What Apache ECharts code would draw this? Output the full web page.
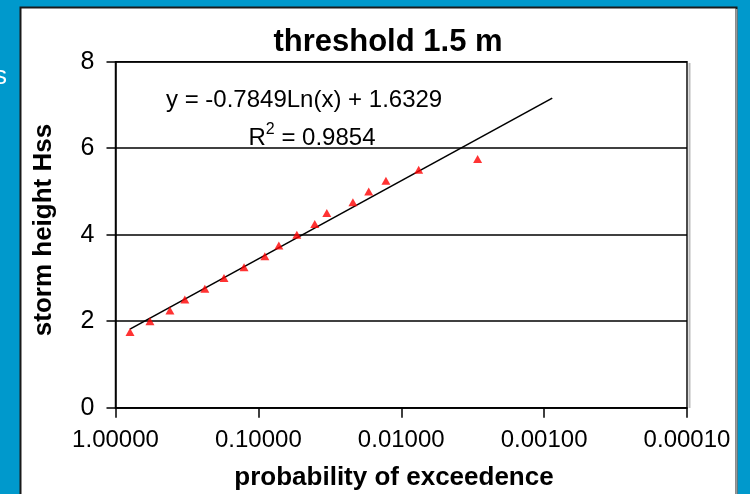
<!DOCTYPE html>
<html><head><meta charset="utf-8">
<script src="https://cdn.jsdelivr.net/npm/echarts@6/dist/echarts.min.js"></script>
<style>html,body{margin:0;padding:0;background:#0099cc;overflow:hidden;} #c{width:750px;height:494px;}</style>
</head><body><div id="c"></div>
<script>
// exceedance probability (x) and storm height Hss (y)
const probability = [0.792, 0.574, 0.416, 0.327, 0.237, 0.174, 0.126, 0.0901, 0.0719, 0.0538, 0.0403, 0.0332, 0.0218, 0.0169, 0.0128, 0.00755, 0.00292];
const stormHeight = [1.75, 2.0, 2.25, 2.5, 2.75, 3.0, 3.25, 3.5, 3.75, 4.0, 4.25, 4.5, 4.75, 5.0, 5.25, 5.5, 5.75];
// logarithmic trendline shown on the chart: y = -0.7849 ln(x) + 1.6329
const trendCoef = [-0.7849, 1.6329];
const trendRange = [0.792, 0.000877];
const xTickLabels = ['1.00000', '0.10000', '0.01000', '0.00100', '0.00010'];
const yTickLabels = ['0', '2', '4', '6', '8'];
const chartTitle = 'threshold 1.5 m';
const xName = 'probability of exceedence';
const yName = 'storm height Hss';
const eqText = 'y = -0.7849Ln(x) + 1.6329';
const r2Text = ' = 0.9854';

const trendData = trendRange.map(x => [x, trendCoef[0] * Math.log(x) + trendCoef[1]]);
const scatterData = probability.map((p, i) => [p, stormHeight[i]]);

const chart = echarts.init(document.getElementById('c'), null, {renderer: 'canvas'});
const FONT = 'Liberation Sans, Arial, sans-serif';
chart.setOption({
  backgroundColor: '#0099cc',
  animation: false,
  grid: {left: 115.5, right: 63, top: 61.7, bottom: 86.3, show: true, borderColor: '#111', borderWidth: 1.5, backgroundColor: 'transparent'},
  xAxis: {
    type: 'log', logBase: 10, min: 0.0001, max: 1, inverse: true,
    axisLine: {show: true, lineStyle: {color: '#000', width: 1.5}},
    axisTick: {show: true, length: 10, lineStyle: {color: '#000', width: 1.5}},
    splitLine: {show: false},
    minorTick: {show: false},
    axisLabel: {
      margin: 21, color: '#000', fontFamily: FONT, fontSize: 24,
      formatter: v => {
        const k = Math.round(-Math.log10(v));
        return xTickLabels[k] !== undefined ? xTickLabels[k] : '';
      }
    }
  },
  yAxis: {
    type: 'value', min: 0, max: 8, interval: 2,
    axisLine: {show: true, lineStyle: {color: '#000', width: 1.5}},
    axisTick: {show: true, length: 9, lineStyle: {color: '#000', width: 1.5}},
    splitLine: {show: true, lineStyle: {color: '#000', width: 1.5}},
    axisLabel: {
      margin: 21, color: '#000', fontFamily: FONT, fontSize: 25,
      formatter: v => yTickLabels[Math.round(v / 2)]
    }
  },
  series: [
    {
      type: 'line', data: trendData, showSymbol: false, symbol: 'none',
      lineStyle: {color: '#000', width: 1.6}, z: 3, silent: true
    },
    {
      type: 'scatter', data: scatterData, symbol: 'triangle', symbolSize: [9, 8],
      itemStyle: {color: '#ff0000'}, z: 4
    }
  ],
  graphic: [
    {type: 'rect', z: -100, shape: {x: 20, y: 7, width: 717, height: 500}, style: {fill: '#fff', stroke: null}},
    {type: 'text', z: -50, left: -6, top: 64, style: {text: 's', fill: '#fff', font: '26px ' + FONT}},
    {type: 'text', z: 50, x: 388, y: 42, style: {text: chartTitle, fill: '#000', font: 'bold 31px ' + FONT, textAlign: 'center', textVerticalAlign: 'middle'}},
    {type: 'text', z: 50, x: 394, y: 478, style: {text: xName, fill: '#000', font: 'bold 26px ' + FONT, textAlign: 'center', textVerticalAlign: 'middle'}},
    {type: 'text', z: 50, x: 44, y: 230, rotation: Math.PI / 2, style: {text: yName, fill: '#000', font: 'bold 26px ' + FONT, textAlign: 'center', textVerticalAlign: 'middle'}},
    {type: 'text', z: 50, x: 166, y: 100, style: {text: eqText, fill: '#000', font: '24px ' + FONT, textAlign: 'left', textVerticalAlign: 'middle'}},
    {type: 'text', z: 50, x: 312, y: 136, style: {
      text: '{a|R}{s|2}{a|' + r2Text + '}', textAlign: 'center', textVerticalAlign: 'middle',
      rich: {
        a: {fontFamily: FONT, fontSize: 24, color: '#000', lineHeight: 28, verticalAlign: 'bottom'},
        s: {fontFamily: FONT, fontSize: 16, color: '#000', lineHeight: 28, verticalAlign: 'top', padding: [0, 0, 12, 0]}
      }
    }},
    // right grey shadow of plot area
    {type: 'rect', z: 40, shape: {x: 688.5, y: 63, width: 2, height: 345}, style: {fill: '#bbb'}},
    // blue cover beyond the panel and panel border on top
    {type: 'rect', z: 90, shape: {x: 738, y: 0, width: 20, height: 494}, style: {fill: '#0099cc'}},
    {type: 'rect', z: 91, shape: {x: 20.5, y: 7.5, width: 716, height: 500}, style: {fill: null, stroke: '#1a1a1a', lineWidth: 2}},
    {type: 'rect', z: 91, shape: {x: 736, y: 9, width: 1.5, height: 490}, style: {fill: '#999'}}
  ]
});
</script>
</body></html>
